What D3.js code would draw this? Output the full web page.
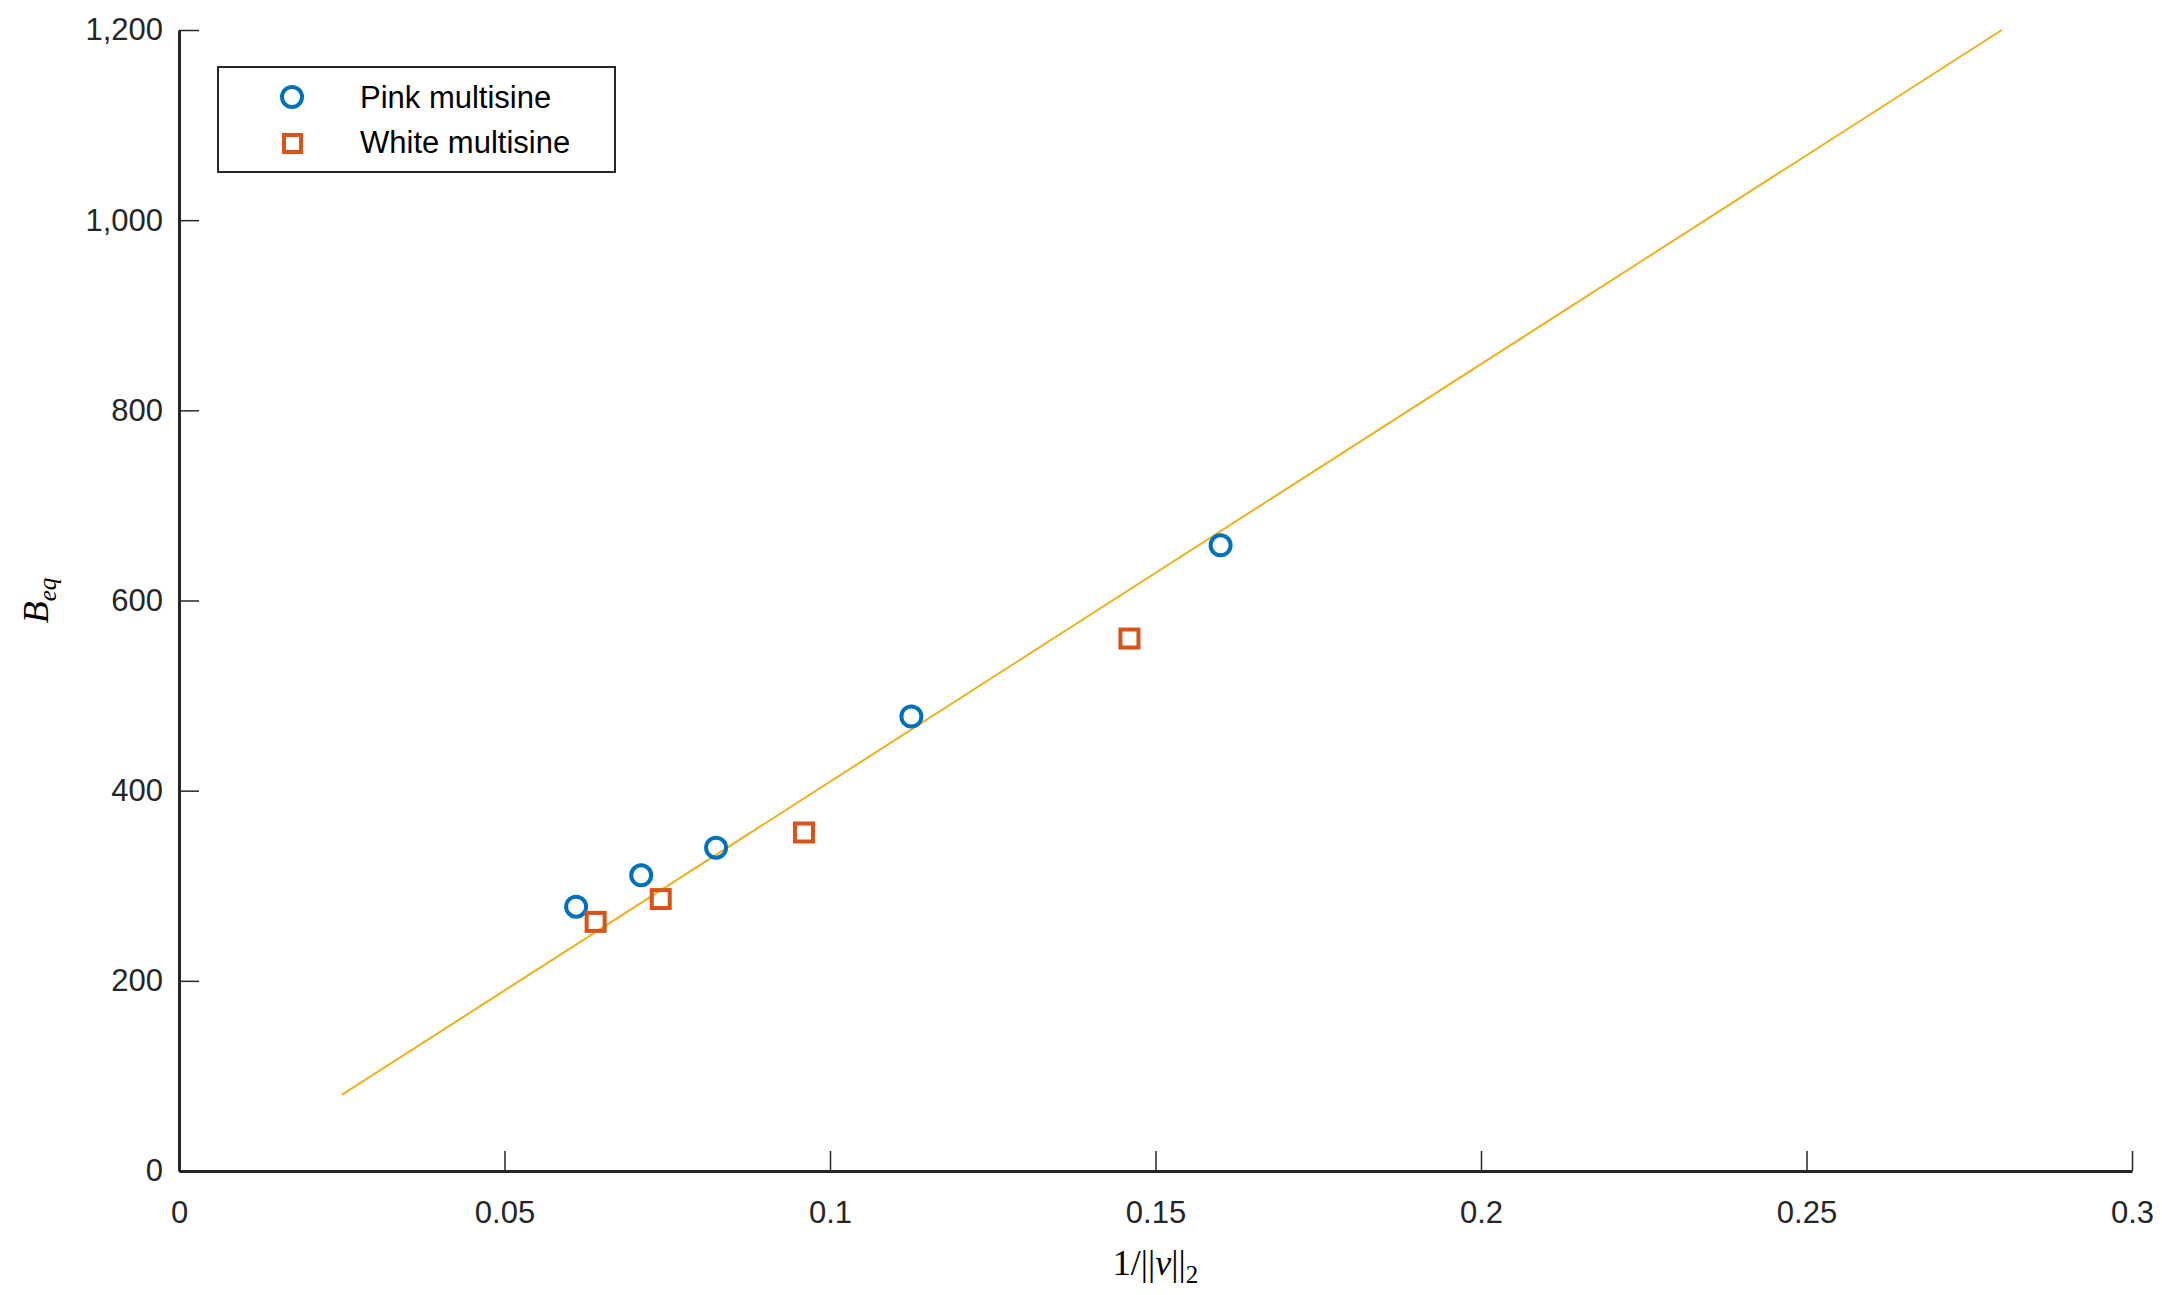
<!DOCTYPE html>
<html><head><meta charset="utf-8">
<script src="https://cdn.jsdelivr.net/npm/d3@7"></script>
<style>body{margin:0;background:#fff}</style>
</head><body>
<svg id="chart" width="2162" height="1295"></svg>
<script>
const pinkX = [0.061, 0.071, 0.0825, 0.1125, 0.16];
const pinkY = [278, 311, 340, 478, 658];
const whiteX = [0.064, 0.074, 0.096, 0.146];
const whiteY = [262, 286, 356, 560];
const fitX = [0.025, 0.28];
const fitY = [80, 1200];
const xTicks = [0, 0.05, 0.1, 0.15, 0.2, 0.25, 0.3];
const yTicks = [0, 200, 400, 600, 800, 1000, 1200];

const svg = d3.select("#chart");
const L = 179, R = 2132, T = 30, B = 1171;
const x = d3.scaleLinear().domain([0, 0.3]).range([L, R]);
const y = d3.scaleLinear().domain([0, 1200]).range([B, T]);
const font = "'Liberation Sans', Arial, sans-serif";

const xAxis = svg.append("g").attr("transform", `translate(0,${B})`)
  .call(d3.axisBottom(x).tickValues(xTicks).tickSizeInner(-20).tickSizeOuter(0)
    .tickPadding(30).tickFormat(d => d3.format("")(d)));
const yAxis = svg.append("g").attr("transform", `translate(${L},0)`)
  .call(d3.axisLeft(y).tickValues(yTicks).tickSizeInner(-20).tickSizeOuter(0).tickPadding(16));
[xAxis, yAxis].forEach(g => {
  g.select(".domain").attr("stroke", "#262626").attr("stroke-width", 3);
  g.selectAll(".tick line").attr("stroke", "#262626").attr("stroke-width", 1.5);
  g.selectAll(".tick text").attr("fill", "#262626").style("font-family", font).style("font-size", "31px");
});

// fit line
svg.append("line")
  .attr("x1", x(fitX[0])).attr("y1", y(fitY[0]))
  .attr("x2", x(fitX[1])).attr("y2", y(fitY[1]))
  .attr("stroke", "#EDB120").attr("stroke-width", 2);

svg.selectAll(".pink").data(pinkX).enter().append("circle")
  .attr("cx", d => x(d)).attr("cy", (d, i) => y(pinkY[i])).attr("r", 10)
  .attr("fill", "none").attr("stroke", "#0072BD").attr("stroke-width", 4);
svg.selectAll(".white").data(whiteX).enter().append("rect")
  .attr("x", d => x(d) - 9).attr("y", (d, i) => y(whiteY[i]) - 9)
  .attr("width", 18).attr("height", 18)
  .attr("fill", "none").attr("stroke", "#D95319").attr("stroke-width", 4);

// legend
const lg = svg.append("g");
lg.append("rect").attr("x", 218).attr("y", 67).attr("width", 397).attr("height", 105)
  .attr("fill", "#fff").attr("stroke", "#262626").attr("stroke-width", 2);
lg.append("circle").attr("cx", 292).attr("cy", 97).attr("r", 10)
  .attr("fill", "none").attr("stroke", "#0072BD").attr("stroke-width", 4);
lg.append("rect").attr("x", 284).attr("y", 135).attr("width", 17).attr("height", 17)
  .attr("fill", "none").attr("stroke", "#D95319").attr("stroke-width", 4);
lg.append("text").attr("x", 360).attr("y", 108).text("Pink multisine")
  .style("font-family", font).style("font-size", "31px");
lg.append("text").attr("x", 360).attr("y", 153).text("White multisine")
  .style("font-family", font).style("font-size", "31px");

// axis labels
const serif = "'Liberation Serif', 'DejaVu Serif', serif";
const xl = svg.append("text").attr("x", (L + R) / 2).attr("y", 1275).attr("text-anchor", "middle")
  .style("font-family", serif).style("font-size", "36px");
xl.append("tspan").text("1/||");
xl.append("tspan").attr("font-style", "italic").text("v");
xl.append("tspan").text("||");
xl.append("tspan").attr("font-size", "25px").attr("dy", 8).text("2");

const yl = svg.append("text").attr("transform", `translate(48,${(T + B) / 2}) rotate(-90)`)
  .attr("text-anchor", "middle").style("font-family", serif).style("font-size", "36px").attr("font-style", "italic");
yl.append("tspan").text("B");
yl.append("tspan").attr("font-size", "25px").attr("dy", 8).text("eq");
</script>
</body></html>
